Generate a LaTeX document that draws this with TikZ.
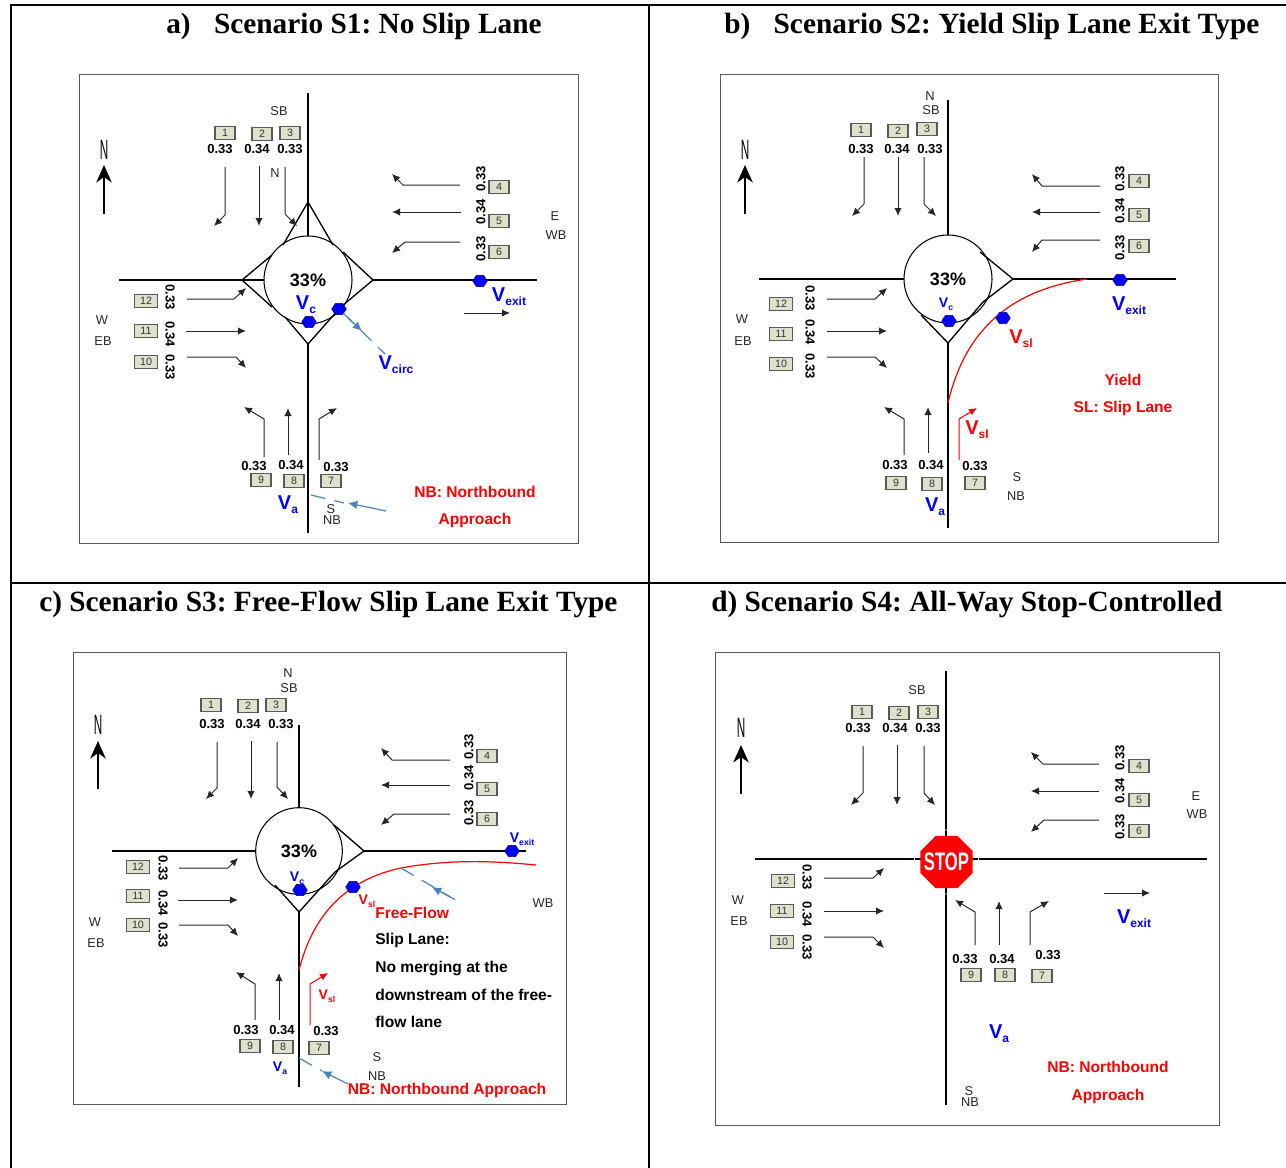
\documentclass[tikz,border=0pt]{standalone}
\usepackage{fontspec}
\setmainfont{Liberation Serif}
\setsansfont{Liberation Sans}
\frenchspacing
\usetikzlibrary{shapes.geometric,arrows.meta}
\definecolor{boxfill}{HTML}{DFE1CD}
\definecolor{callout}{HTML}{4F81BD}
\newcommand{\vel}[2][9]{V\raisebox{-.35ex}{\fontsize{#1}{#1}\selectfont #2}}
\newcommand{\splitter}[8]{%
	\coordinate (#2) at ([shift={(#3,#4)}]#1.center);
	\coordinate (#2l) at ([shift={(#5,#6)}]#1.center);
	\coordinate (#2r) at ([shift={(#7,#8)}]#1.center);
	\draw[island] (#2l) -- (#2) -- (#2r);}
\tikzset{
	grid/.style={line width=1pt, black},
	frame/.style={line width=.6pt, black!65},
	road/.style={line width=1.2pt, black},
	island/.style={line width=1pt, black},
	circ/.style={draw, circle, line width=.8pt, inner sep=0pt, outer sep=0pt, font=\sffamily\bfseries\fontsize{13.5}{14}\selectfont},
	hexa/.style={regular polygon, regular polygon sides=6, fill=blue, draw=blue!50!black, line width=.3pt, inner sep=0pt, minimum size=11pt, yscale=.88},
	move/.style={->, >={Latex[length=6pt,width=5.5pt]}, line width=.75pt, black!85},
	slip/.style={line width=.9pt, red},
	northarrow/.style={->, >={Stealth[length=13pt,width=11.5pt,inset=4pt]}, line width=2.2pt, black},
	numbox/.style={draw=black!65, fill=boxfill, line width=.8pt, inner ysep=0pt, inner xsep=4.5pt, minimum width=15pt, minimum height=9.5pt, font=\sffamily\fontsize{8}{8}\selectfont, text=black!80},
	val/.style={font=\sffamily\bfseries\fontsize{9.8}{10}\selectfont, inner sep=0pt},
	lab/.style={font=\sffamily\fontsize{9.6}{10}\selectfont, inner sep=0pt, text=black!85},
	northlab/.style={font=\sffamily\fontsize{21}{21}\selectfont, xscale=.42, inner sep=0pt},
	speed/.style={font=\sffamily\bfseries\fontsize{15}{15}\selectfont, inner sep=0pt, text=blue},
	speedsm/.style={font=\sffamily\bfseries\fontsize{10.5}{11}\selectfont, inner sep=0pt, text=blue},
	note/.style={font=\sffamily\bfseries\fontsize{11.7}{12}\selectfont, inner sep=0pt, text=red},
	title/.style={font=\bfseries\fontsize{22}{23}\selectfont, inner sep=0pt, anchor=base west},
	callin/.style={line width=.9pt, callout, dash pattern=on 11pt off 7pt},
	callarr/.style={->, >={Latex[length=7pt,width=6.5pt]}, line width=.9pt, callout}
}
\begin{document}
\begin{tikzpicture}[x=.75pt, y=-.75pt]
	\useasboundingbox (0,0) rectangle (1286,1168);
	
	% table lines
	\draw[grid] (11,1168) -- (11,5) -- (1286,5);
	\draw[grid] (649,5) -- (649,1168);
	\draw[grid] (11,583) -- (1286,583);
	\node[title] (titlea) at (166,33) {a)\hspace{17.5pt}Scenario S1: No Slip Lane};
	\node[title] (titleb) at (724,33) {b)\hspace{17.5pt}Scenario S2: Yield Slip Lane Exit Type};
	\node[title] (titlec) at (39,611) {c) Scenario S3: Free-Flow Slip Lane Exit Type};
	\node[title] (titled) at (711,611) {d) Scenario S4: All-Way Stop-Controlled};
	
	% frames
	\draw[frame] (79.5,74.5) rectangle (578,543);
	\draw[frame] (720.5,74.5) rectangle (1218,542);
	\draw[frame] (73.5,652.5) rectangle (566,1104);
	\draw[frame] (715.5,652.5) rectangle (1219,1125);
	
	% north arrows
	\foreach \p/\x/\y/\ax/\ay/\by in {a/104/150/104/214/165, b/745/150/745/214/165, c/98/725/98/789/741, d/741/728/741/794/745}
	{
		\node[northlab] (\p north) at (\x,\y) {N};
		\coordinate (\p tail) at (\ax,\ay);
		\coordinate (\p head) at (\ax,\by);
		\draw[northarrow] (\p tail) -- (\p head);
	}
	
	% panel a
	\node[circ, minimum size=66pt] (acirc) at (308,280) {33\%};
	\coordinate (aroadN) at (308,93);
	\coordinate (aroadS) at (308,533);
	\coordinate (aroadW) at (119,280);
	\coordinate (aroadE) at (537,280);
	\splitter{acirc}{aN}{0}{-78}{-25}{-35}{25}{-35}
	\splitter{acirc}{aW}{-66}{0}{-36}{-25}{-36}{27}
	\splitter{acirc}{aE}{65}{0}{35}{-28}{34}{26}
	\splitter{acirc}{aS}{0}{64}{-23}{37}{31}{29}
	\draw[road] (aroadN) -- (acirc.north);
	\draw[road] (aroadW) -- (acirc.west);
	\draw[road] (aE) -- (aroadE);
	\draw[road] (aS) -- (aroadS);
	\node[hexa] (ahexexit) at (480,281) {};
	\node[hexa] (ahexc) at (309,322) {};
	\node[hexa] (ahexcirc) at (339,309) {};
	\foreach \n/\x/\y in {1/225/133, 2/262/134, 3/290/133, 4/499/187, 5/499/221, 6/499/252, 7/331/481, 8/294/481, 9/261/480, 10/146/362, 11/146/331, 12/146/301}
		\node[numbox] (abox\n) at (\x,\y) {\n};
	\foreach \t/\x/\y/\r [count=\i] in {0.33/220/149/0, 0.34/257/149/0, 0.33/290/149/0, 0.33/481/179/90, 0.34/481/212/90, 0.33/481/249/90, 0.33/170/297/-90, 0.34/170/334/-90, 0.33/170/367/-90, 0.33/254/466/0, 0.34/291/465/0, 0.33/336/467/0}
		\node[val, rotate=\r] (aval\i) at (\x,\y) {\t};
	\foreach \m/\ax/\ay/\bx/\by/\cx/\cy in {a1/225/167/225/215/214/226, a3/285/167/285/214/297/226, a4/460/185/403/185/392/174, a6/460/242/405/242/392/253, a12/187/299/234/299/246/288, a10/187/357/236/357/246/368, a9/264/457/264/419/244/407, a7/319/460/319/419/337/408}
	{
		\coordinate (\m s) at (\ax,\ay);
		\coordinate (\m m) at (\bx,\by);
		\coordinate (\m e) at (\cx,\cy);
		\draw[move] (\m s) -- (\m m) -- (\m e);
	}
	\foreach \m/\ax/\ay/\bx/\by in {a2/259/166/259/226, a5/461/212/392/212, a11/186/331/246/331, a8/288/455/288/408, ax/464/313/510/313}
	{
		\coordinate (\m s) at (\ax,\ay);
		\coordinate (\m e) at (\bx,\by);
		\draw[move] (\m s) -- (\m e);
	}
	\foreach \t/\x/\y [count=\i] in {SB/279/111, N/275/173, E/555/216, WB/556/235, W/102/320, EB/103/341, S/331/509, NB/332/520}
		\node[lab] (alab\i) at (\x,\y) {\t};
	\node[speed] (avc) at (306,305) {\vel{c}};
	\node[speed] (avexit) at (509,297) {\vel{exit}};
	\node[speed] (avcirc) at (396,365) {\vel{circ}};
	\node[speed] (ava) at (288,505) {\vel{a}};
	\node[note] (anb1) at (475,492) {NB: Northbound};
	\node[note] (anb2) at (475,520) {Approach};
	\coordinate (acalla) at (385,354);
	\coordinate (acallb) at (348,318);
	\coordinate (acallc) at (362,331);
	\draw[callin] (ahexcirc) -- (acalla);
	\draw[callarr] (acallb) -- (acallc);
	\coordinate (acalld) at (311,495);
	\coordinate (acalle) at (344,503);
	\coordinate (acallf) at (386,511);
	\coordinate (acallg) at (348,503);
	\draw[callin] (acalld) -- (acalle);
	\draw[callarr] (acallf) -- (acallg);
	
	% panel b
	\node[circ, minimum size=66pt] (bcirc) at (948,279) {33\%};
	\coordinate (broadN) at (948,100);
	\coordinate (broadS) at (948,528);
	\coordinate (broadW) at (759,279);
	\coordinate (broadE) at (1176,279);
	\splitter{bcirc}{bE}{65}{0}{32}{-27}{35}{23}
	\splitter{bcirc}{bS}{0}{64}{-27}{36}{35}{23}
	\draw[road] (broadN) -- (bcirc.north);
	\draw[road] (broadW) -- (bcirc.west);
	\draw[road] (bE) -- (broadE);
	\draw[road] (bS) -- (broadS);
	\coordinate (bslipa) at (1087,279);
	\coordinate (bslipb) at (948,403);
	\draw[slip] (bslipa) .. controls (1010,290) and (965,330) .. (bslipb);
	\node[hexa] (bhexexit) at (1120,280) {};
	\node[hexa] (bhexc) at (949,321) {};
	\node[hexa] (bhexsl) at (1003,318) {};
	\foreach \n/\x/\y in {1/861/130, 2/898/131, 3/927/129, 4/1139/181, 5/1139/215, 6/1139/246, 7/975/483, 8/932/484, 9/896/483, 10/781/364, 11/781/334, 12/781/304}
		\node[numbox] (bbox\n) at (\x,\y) {\n};
	\foreach \t/\x/\y/\r [count=\i] in {0.33/861/149/0, 0.34/897/149/0, 0.33/930/149/0, 0.33/1120/179/90, 0.34/1120/211/90, 0.33/1120/248/90, 0.33/810/298/-90, 0.34/810/332/-90, 0.33/810/366/-90, 0.33/895/465/0, 0.34/931/465/0, 0.33/975/466/0}
		\node[val, rotate=\r] (bval\i) at (\x,\y) {\t};
	\foreach \m/\ax/\ay/\bx/\by/\cx/\cy in {b1/864/157/864/204/852/216, b3/924/157/924/204/936/216, b4/1100/186/1042/186/1032/174, b6/1100/240/1042/240/1032/252, b12/827/299/875/299/887/288, b10/827/357/875/357/887/368, b9/904/455/904/419/884/407}
	{
		\coordinate (\m s) at (\ax,\ay);
		\coordinate (\m m) at (\bx,\by);
		\coordinate (\m e) at (\cx,\cy);
		\draw[move] (\m s) -- (\m m) -- (\m e);
	}
	\foreach \m/\ax/\ay/\bx/\by in {b2/898/157/898/216, b5/1100/212/1032/212, b11/827/331/887/331, b8/928/453/928/407}
	{
		\coordinate (\m s) at (\ax,\ay);
		\coordinate (\m e) at (\bx,\by);
		\draw[move] (\m s) -- (\m e);
	}
	\coordinate (b7s) at (959,460);
	\coordinate (b7m) at (959,419);
	\coordinate (b7e) at (977,408);
	\draw[move, red] (b7s) -- (b7m) -- (b7e);
	\foreach \t/\x/\y [count=\i] in {N/930/96, SB/931/110, W/742/319, EB/743/341, S/1017/477, NB/1016/496}
		\node[lab] (blab\i) at (\x,\y) {\t};
	\node[speedsm] (bvc) at (946,304) {\vel[6.5]{c}};
	\node[speed] (bvexit) at (1129,306) {\vel{exit}};
	\node[speed, text=red] (bvsla) at (1021,339) {\vel{sl}};
	\node[speed, text=red] (bvslb) at (977,430) {\vel{sl}};
	\node[speed] (bva) at (935,507) {\vel{a}};
	\node[note] (byield) at (1123,380) {Yield};
	\node[note] (bsl) at (1123,408) {SL: Slip Lane};
	
	% panel c
	\node[circ, minimum size=65pt] (ccirc) at (299,851) {33\%};
	\coordinate (croadN) at (299,725);
	\coordinate (croadS) at (299,1087);
	\coordinate (croadW) at (112,851);
	\coordinate (croadE) at (526,851);
	\splitter{ccirc}{cE}{65}{0}{35}{-26}{36}{21}
	\splitter{ccirc}{cS}{0}{61}{-24}{34}{36}{21}
	\draw[road] (croadN) -- (ccirc.north);
	\draw[road] (croadW) -- (ccirc.west);
	\draw[road] (cE) -- (croadE);
	\draw[road] (cS) -- (croadS);
	\coordinate (cslipa) at (536,865);
	\coordinate (cslipb) at (401,868);
	\coordinate (cslipc) at (299,970);
	\draw[slip] (cslipa) .. controls (495,861) and (450,859) .. (cslipb) .. controls (345,880) and (313,915) .. (cslipc);
	\node[hexa] (chexexit) at (512,851) {};
	\node[hexa] (chexc) at (300,890) {};
	\node[hexa] (chexsl) at (353,887) {};
	\foreach \n/\x/\y in {1/211/705, 2/248/706, 3/276/705, 4/487/756, 5/487/789, 6/487/819, 7/319/1048, 8/283/1047, 9/250/1046, 10/138/925, 11/138/896, 12/138/867}
		\node[numbox] (cbox\n) at (\x,\y) {\n};
	\foreach \t/\x/\y/\r [count=\i] in {0.33/212/724/0, 0.34/248/724/0, 0.33/281/724/0, 0.33/469/747/90, 0.34/469/778/90, 0.33/469/813/90, 0.33/163/868/-90, 0.34/163/903/-90, 0.33/163/935/-90, 0.33/246/1030/0, 0.34/282/1030/0, 0.33/326/1031/0}
		\node[val, rotate=\r] (cval\i) at (\x,\y) {\t};
	\foreach \m/\ax/\ay/\bx/\by/\cx/\cy in {c1/217/742/217/788/206/799, c3/277/742/277/787/288/799, c4/450/760/392/760/381/748, c6/450/814/394/814/381/825, c12/179/868/228/868/238/858, c10/179/925/228/925/238/936, c9/255/1020/255/984/236/972}
	{
		\coordinate (\m s) at (\ax,\ay);
		\coordinate (\m m) at (\bx,\by);
		\coordinate (\m e) at (\cx,\cy);
		\draw[move] (\m s) -- (\m m) -- (\m e);
	}
	\foreach \m/\ax/\ay/\bx/\by in {c2/251/741/251/799, c5/450/785/381/785, c11/178/900/238/900, c8/279/1020/279/973}
	{
		\coordinate (\m s) at (\ax,\ay);
		\coordinate (\m e) at (\bx,\by);
		\draw[move] (\m s) -- (\m e);
	}
	\coordinate (c7s) at (310,1025);
	\coordinate (c7m) at (310,984);
	\coordinate (c7e) at (328,973);
	\draw[move, red] (c7s) -- (c7m) -- (c7e);
	\foreach \t/\x/\y [count=\i] in {N/288/673, SB/289/688, W/95/922, EB/96/943, S/377/1057, NB/377/1076, WB/543/903}
		\node[lab] (clab\i) at (\x,\y) {\t};
	\node[speedsm] (cvexit) at (522,839) {\vel[6.5]{exit}};
	\node[speedsm] (cvc) at (297,878) {\vel[6.5]{c}};
	\node[speedsm, text=red] (cvsla) at (367,901) {\vel[6.5]{sl}};
	\node[speedsm, text=red] (cvslb) at (327,996) {\vel[6.5]{sl}};
	\node[speedsm] (cva) at (280,1068) {\vel[6.5]{a}};
	\node[note, anchor=west, text=red] (cff) at (375,913) {Free-Flow};
	\node[note, anchor=west, text=black] (ctxt1) at (375,940) {Slip Lane:};
	\node[note, anchor=west, text=black] (ctxt2) at (375,968) {No merging at the};
	\node[note, anchor=west, text=black] (ctxt3) at (375,995) {downstream of the free-};
	\node[note, anchor=west, text=black] (ctxt4) at (375,1022) {flow lane};
	\node[note] (cnb) at (447,1090) {NB: Northbound Approach};
	\coordinate (ccalla) at (459,902);
	\coordinate (ccallb) at (450,897);
	\coordinate (ccallc) at (432,887);
	\draw[callin] (cslipb) -- (ccalla);
	\draw[callarr] (ccallb) -- (ccallc);
	\coordinate (ccalld) at (299,1058);
	\coordinate (ccalle) at (322,1071);
	\coordinate (ccallf) at (348,1084);
	\draw[callin] (ccalld) -- (ccalle);
	\draw[callarr] (ccallf) -- (ccalle);
	
	% panel d
	\coordinate (droadN) at (946,671);
	\coordinate (droadS) at (946,1105);
	\coordinate (droadW) at (755,859);
	\coordinate (droadE) at (1207,859);
	\draw[road] (droadN) -- (droadS);
	\draw[road] (droadW) -- (droadE);
	\node[regular polygon, regular polygon sides=8, fill=red, inner sep=0pt, minimum size=42.5pt] (dstop) at (946.5,862) {};
	\node[regular polygon, regular polygon sides=8, draw=white, line width=.6pt, inner sep=0pt, minimum size=41pt, text=white, font=\sffamily\bfseries\fontsize{19}{19}\selectfont] (dstoptxt) at (946.5,862) {\scalebox{.66}[1]{STOP}};
	\foreach \n/\x/\y in {1/862/712, 2/899/713, 3/928/712, 4/1139/766, 5/1139/800, 6/1139/831, 7/1042/976, 8/1005/975, 9/971/975, 10/782/942, 11/782/911, 12/783/881}
		\node[numbox] (dbox\n) at (\x,\y) {\n};
	\foreach \t/\x/\y/\r [count=\i] in {0.33/858/728/0, 0.34/895/728/0, 0.33/928/728/0, 0.33/1120/758/90, 0.34/1120/791/90, 0.33/1120/827/90, 0.33/807/877/-90, 0.34/807/914/-90, 0.33/807/947/-90, 0.33/965/959/0, 0.34/1002/959/0, 0.33/1048/955/0}
		\node[val, rotate=\r] (dval\i) at (\x,\y) {\t};
	\foreach \m/\ax/\ay/\bx/\by/\cx/\cy in {d1/863/746/863/793/851/805, d3/924/746/924/793/935/805, d4/1099/764/1043/764/1031/752, d6/1099/820/1044/820/1031/832, d12/824/878/873/878/884/868, d10/824/937/873/937/884/948, d9/975/945/975/912/955/900, d7/1030/945/1030/912/1049/901}
	{
		\coordinate (\m s) at (\ax,\ay);
		\coordinate (\m m) at (\bx,\by);
		\coordinate (\m e) at (\cx,\cy);
		\draw[move] (\m s) -- (\m m) -- (\m e);
	}
	\foreach \m/\ax/\ay/\bx/\by in {d2/897/745/897/805, d5/1099/791/1031/791, d11/824/911/884/911, d8/999/945/999/901, dx/1104/893/1150/893}
	{
		\coordinate (\m s) at (\ax,\ay);
		\coordinate (\m e) at (\bx,\by);
		\draw[move] (\m s) -- (\m e);
	}
	\foreach \t/\x/\y [count=\i] in {SB/917/690, E/1196/796, WB/1197/814, W/738/900, EB/739/921, S/969/1091, NB/970/1102}
		\node[lab] (dlab\i) at (\x,\y) {\t};
	\node[speed] (dvexit) at (1134,919) {\vel{exit}};
	\node[speed] (dva) at (999,1034) {\vel{a}};
	\node[note] (dnb1) at (1108,1067) {NB: Northbound};
	\node[note] (dnb2) at (1108,1096) {Approach};
\end{tikzpicture}
\end{document}
